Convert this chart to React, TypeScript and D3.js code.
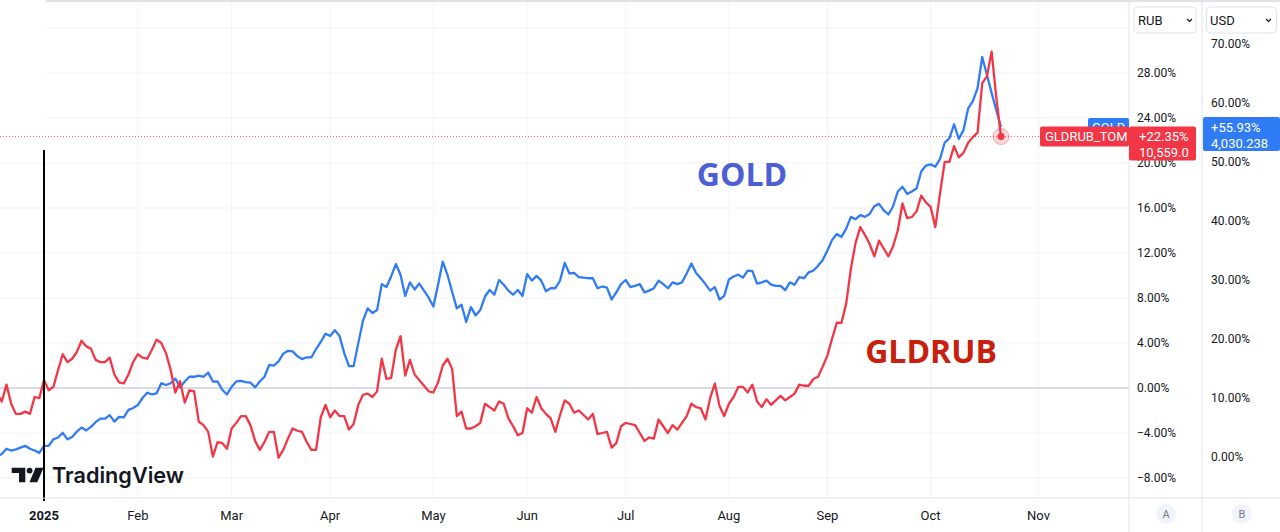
import React from 'react';
import * as d3 from 'd3';

// bar index of the first value (bar 0 = first bar of 2025)
const firstBar = -10;

// GOLD, % change, scale B (USD)
const goldPct = [
  0.1, 0.5, 1.4, 1.1, 1.3, 1.6, 1.9, 1.4, 1.1, 0.7,
  1.9, 1.9, 3.0, 3.3, 4.1, 3.0, 3.4, 4.3, 5.0, 4.5,
  5.1, 5.9, 6.5, 6.5, 7.1, 6.0, 6.8, 6.7, 8.0, 8.3,
  8.8, 10.0, 10.9, 10.6, 10.8, 12.5, 12.2, 12.5, 13.3, 11.8,
  12.8, 13.6, 13.6, 13.8, 13.6, 14.3, 12.8, 12.8, 11.4, 10.6,
  11.9, 12.8, 12.9, 12.7, 12.6, 11.8, 12.8, 13.6, 15.6, 15.5,
  16.2, 17.5, 18.0, 17.9, 17.1, 16.6, 16.9, 16.9, 18.3, 19.5,
  20.9, 20.5, 21.5, 20.5, 17.6, 15.4, 15.4, 19.3, 23.1, 25.2,
  24.4, 24.9, 29.3, 28.8, 30.6, 32.7, 30.9, 27.3, 29.6, 28.4,
  29.4, 28.2, 27.0, 25.5, 29.2, 33.1, 30.9, 28.0, 25.2, 25.8,
  22.9, 25.4, 24.0, 24.9, 27.2, 28.3, 27.5, 30.0, 29.2, 28.2,
  27.5, 28.3, 27.3, 31.0, 29.9, 30.7, 29.9, 28.1, 28.6, 28.6,
  29.9, 32.9, 31.1, 31.2, 30.5, 30.4, 30.3, 30.3, 28.6, 28.9,
  28.7, 26.7, 27.9, 29.3, 30.0, 28.8, 29.0, 29.3, 27.9, 28.2,
  28.6, 29.9, 29.3, 28.6, 29.6, 29.3, 29.6, 31.1, 32.8, 31.2,
  30.3, 29.3, 28.2, 28.8, 26.7, 27.3, 30.1, 30.6, 30.9, 30.4,
  31.6, 31.5, 29.4, 29.6, 29.9, 29.2, 29.0, 29.0, 28.3, 29.6,
  29.2, 30.5, 30.3, 31.3, 31.6, 32.4, 33.4, 35.0, 36.8, 37.8,
  37.3, 38.7, 40.7, 40.3, 41.0, 40.7, 41.2, 42.5, 42.9, 41.8,
  41.1, 42.5, 45.0, 45.8, 44.6, 45.0, 45.5, 48.4, 49.4, 49.6,
  49.2, 50.5, 53.3, 54.0, 56.4, 53.9, 55.4, 59.1, 60.3, 62.5,
  67.8, 64.8, 61.7, 58.8, 55.93,
];

// GLDRUB_TOM, % change, scale A (RUB)
const gldrubPct = [
  -0.5, -1.2, 0.3, -1.4, -2.3, -2.3, -2.1, -2.3, -0.8, -0.9,
  0.7, -0.2, 0.1, 1.6, 3.0, 2.3, 2.6, 3.2, 4.2, 3.7,
  3.5, 2.5, 2.3, 2.3, 2.7, 1.2, 0.5, 0.4, 1.2, 2.3,
  3.0, 2.7, 2.6, 3.4, 4.3, 4.0, 3.1, 1.6, -0.4, 0.6,
  -1.3, -0.2, -0.3, -3.0, -3.3, -3.9, -6.1, -4.8, -4.9, -5.4,
  -3.6, -3.1, -2.5, -2.5, -3.3, -4.7, -5.5, -4.8, -3.9, -3.9,
  -6.2, -5.5, -4.5, -3.6, -3.8, -3.9, -4.8, -5.5, -5.5, -2.6,
  -1.5, -2.6, -2.0, -2.5, -2.5, -3.7, -3.2, -1.5, -0.6, -0.5,
  -0.8, -0.3, 2.6, 0.8, 0.9, 3.4, 4.6, 1.1, 2.5, 1.2,
  0.7, 0.2, -0.3, -0.4, 0.5, 2.0, 2.6, 1.7, -2.5, -2.1,
  -3.6, -3.6, -3.4, -3.1, -1.4, -1.7, -2.0, -1.2, -1.4, -2.7,
  -3.4, -4.2, -4.0, -1.8, -2.2, -0.8, -1.8, -2.3, -2.7, -3.9,
  -2.4, -1.1, -1.4, -2.2, -2.0, -2.4, -2.8, -2.3, -4.1, -4.0,
  -3.9, -5.3, -4.9, -3.4, -3.1, -3.2, -3.3, -4.0, -4.7, -4.4,
  -4.5, -2.8, -3.4, -4.0, -3.3, -3.7, -3.1, -2.5, -1.4, -1.7,
  -1.8, -2.8, -0.9, 0.4, -1.6, -2.5, -1.4, -0.8, 0.1, 0.1,
  -0.4, 0.3, -1.2, -1.7, -1.0, -1.5, -1.1, -0.7, -1.1, -0.8,
  -0.5, 0.3, 0.2, 0.2, 0.8, 1.0, 1.9, 2.9, 4.4, 5.8,
  5.8, 7.5, 10.6, 12.9, 14.3, 13.6, 12.8, 11.7, 13.1, 12.4,
  11.7, 12.6, 14.0, 16.4, 15.1, 15.2, 15.7, 17.1, 16.5, 16.1,
  14.3, 17.3, 20.1, 20.1, 21.5, 20.5, 20.9, 21.8, 22.3, 22.7,
  27.1, 27.7, 29.9, 25.8, 22.35,
];

const monthBars = [0, 20, 40, 61, 83, 103, 124, 146, 167, 189, 212];
const monthLabels = ['2025', 'Feb', 'Mar', 'Apr', 'May', 'Jun', 'Jul', 'Aug', 'Sep', 'Oct', 'Nov'];
const rubTicks = [-8, -4, 0, 4, 8, 12, 16, 20, 24, 28, 32];
const rubLabels = [-8, -4, 0, 4, 8, 12, 16, 20, 24, 28]; // 32% sits under the RUB button
const usdTicks = [0, 10, 20, 30, 40, 50, 60, 70];

const goldLast = { name: 'GOLD', pct: '+55.93%', price: '4,030.238' };
const gldrubLast = { name: 'GLDRUB_TOM', pct: '+22.35%', price: '10,559.0' };

const W = 1280;
const H = 532;
const paneRight = 1129;
const splitAB = 1202;
const timeY = 498;

const BLUE = '#2f7cf6';
const RED = '#f23645';
const GRID = '#f0f3fa';
const BORDER = '#e0e3eb';
const TEXT = '#131722';
const FONT = 'Roboto, "Noto Sans", sans-serif';

const pct = d3.format('.2f');

const App = () => {
  const lastBar = firstBar + goldPct.length - 1;
  const x = d3.scaleLinear().domain([0, lastBar]).range([44, 1001]);
  const yA = d3.scaleLinear().domain([-8, 28]).range([478, 73]);
  const yB = d3.scaleLinear().domain([0, 70]).range([457, 44]);

  const lineA = d3
    .line<number>()
    .x((_, i) => x(firstBar + i))
    .y((d) => yA(d));
  const lineB = d3
    .line<number>()
    .x((_, i) => x(firstBar + i))
    .y((d) => yB(d));

  const redY = yA(gldrubPct[gldrubPct.length - 1]);
  const blueY = yB(goldPct[goldPct.length - 1]);
  const endX = x(lastBar);

  const chevron = (cx: number, cy: number) =>
    `M${cx - 2.5},${cy - 1.5} L${cx},${cy + 1} L${cx + 2.5},${cy - 1.5}`;

  return (
    <div style={{ position: 'absolute', left: 0, top: 0 }}>
      <svg width={W} height={H} style={{ display: 'block', background: '#fff' }} fontFamily={FONT}>
        <defs>
          <clipPath id="pane">
            <rect x={0} y={0} width={paneRight} height={timeY} />
          </clipPath>
        </defs>

        {/* grid */}
        <g>
          {rubTicks.map((t) => (
            <line key={`h${t}`} x1={0} x2={paneRight} y1={yA(t)} y2={yA(t)} stroke={GRID} />
          ))}
          {monthBars.map((b) => (
            <line key={`v${b}`} x1={x(b)} x2={x(b)} y1={0} y2={timeY} stroke={GRID} />
          ))}
        </g>
        <rect x={0} y={0} width={46} height={150} fill="#fff" />
        <line x1={0} x2={paneRight} y1={yA(0)} y2={yA(0)} stroke="#b8bbcc" />

        {/* price line of the last GLDRUB value */}
        <line
          x1={0}
          x2={1040}
          y1={redY}
          y2={redY}
          stroke={RED}
          strokeDasharray="1 2"
          strokeOpacity={0.8}
        />

        <g clipPath="url(#pane)">
          <path d={lineB(goldPct) ?? ''} fill="none" stroke={BLUE} strokeWidth={2.3} strokeLinejoin="round" />
          <path d={lineA(gldrubPct) ?? ''} fill="none" stroke={RED} strokeWidth={2.3} strokeLinejoin="round" />
          <circle cx={endX} cy={redY} r={8} fill={RED} fillOpacity={0.2} stroke={RED} strokeOpacity={0.35} />
          <circle cx={endX} cy={redY} r={3.5} fill={RED} />
        </g>

        {/* year marker */}
        <line x1={x(0)} x2={x(0)} y1={150} y2={501} stroke="#000" strokeWidth={2} />

        {/* annotations */}
        <text x={742} y={186} textAnchor="middle" fontFamily='"Open Sans", sans-serif' fontWeight={700} fontSize={32} fill="#4d5fd6">
          GOLD
        </text>
        <text x={931} y={363} textAnchor="middle" fontFamily='"Open Sans", sans-serif' fontWeight={700} fontSize={32} fill="#c8200e">
          GLDRUB
        </text>

        {/* TradingView logo */}
        <g fill={TEXT}>
          <path d="M11.7,467.7 H25.3 V482.3 H19 V473 H11.7 Z" />
          <circle cx={29.6} cy={470.6} r={2.9} />
          <path d="M35.5,467.7 H43.5 L37.3,482.3 H29.5 Z" />
          <text
            x={52}
            y={483}
            fontFamily="Inter, sans-serif"
            fontWeight={600}
            fontSize={22}
            textLength={132}
            lengthAdjust="spacingAndGlyphs"
          >
            TradingView
          </text>
        </g>

        {/* borders */}
        <rect x={46} y={0} width={W - 46} height={2} fill={BORDER} />
        <line x1={0} x2={W} y1={timeY} y2={timeY} stroke={BORDER} />
        <line x1={paneRight} x2={paneRight} y1={0} y2={H} stroke={BORDER} />
        <line x1={splitAB} x2={splitAB} y1={0} y2={H} stroke={BORDER} />

        {/* time axis */}
        {monthBars.map((b, i) => (
          <text
            key={monthLabels[i]}
            x={x(b)}
            y={515}
            textAnchor="middle"
            dominantBaseline="central"
            fontSize={13}
            fontWeight={i === 0 ? 700 : 400}
            fill={TEXT}
          >
            {monthLabels[i]}
          </text>
        ))}

        {/* scale A (RUB) */}
        {rubLabels.map((t) => (
          <text key={`a${t}`} x={1137} y={yA(t)} dominantBaseline="central" fontSize={12} fill={TEXT}>
            {pct(t)}%
          </text>
        ))}
        {/* scale B (USD) */}
        {usdTicks.map((t) => (
          <text key={`b${t}`} x={1211} y={yB(t)} dominantBaseline="central" fontSize={12} fill={TEXT}>
            {pct(t)}%
          </text>
        ))}

        {/* last value tags */}
        <rect x={1088} y={blueY - 9} width={paneRight - 1088} height={18} rx={2} fill={BLUE} />
        <text x={1092} y={blueY} dominantBaseline="central" fontSize={13} fill="#fff">
          {goldLast.name}
        </text>
        <rect x={1203} y={blueY - 10} width={W - 1203} height={34} rx={2} fill={BLUE} />
        <text x={1211} y={blueY} dominantBaseline="central" fontSize={13} fill="#fff">
          {goldLast.pct}
        </text>
        <text x={1211} y={blueY + 16} dominantBaseline="central" fontSize={13} fill="#fff">
          {goldLast.price}
        </text>

        <rect x={1040} y={redY - 10} width={paneRight - 1040} height={20} rx={2} fill={RED} />
        <text x={1045} y={redY} dominantBaseline="central" fontSize={13} fill="#fff">
          {gldrubLast.name}
        </text>
        <rect x={paneRight} y={redY - 10} width={1196 - paneRight} height={34} rx={2} fill={RED} />
        <text x={1139} y={redY} dominantBaseline="central" fontSize={13} fill="#fff">
          {gldrubLast.pct}
        </text>
        <text x={1139} y={redY + 16} dominantBaseline="central" fontSize={13} fill="#fff">
          {gldrubLast.price}
        </text>

        {/* currency buttons */}
        <g>
          <rect x={1134} y={7} width={62} height={26} rx={4} fill="#fff" stroke={BORDER} />
          <text x={1138} y={20.5} dominantBaseline="central" fontSize={13} fill={TEXT}>
            RUB
          </text>
          <path d={chevron(1189.5, 20.5)} fill="none" stroke={TEXT} strokeWidth={1.2} />
          <rect x={1206.5} y={7} width={70} height={26} rx={4} fill="#fff" stroke={BORDER} />
          <text x={1210} y={20.5} dominantBaseline="central" fontSize={13} fill={TEXT}>
            USD
          </text>
          <path d={chevron(1268.5, 20.5)} fill="none" stroke={TEXT} strokeWidth={1.2} />
        </g>

        {/* scale badges */}
        <circle cx={1166} cy={514} r={10} fill={GRID} />
        <text x={1166} y={514} textAnchor="middle" dominantBaseline="central" fontSize={11} fill="#787b86">
          A
        </text>
        <circle cx={1242} cy={514} r={10} fill={GRID} />
        <text x={1242} y={514} textAnchor="middle" dominantBaseline="central" fontSize={11} fill="#787b86">
          B
        </text>
      </svg>
    </div>
  );
};

export default App;
